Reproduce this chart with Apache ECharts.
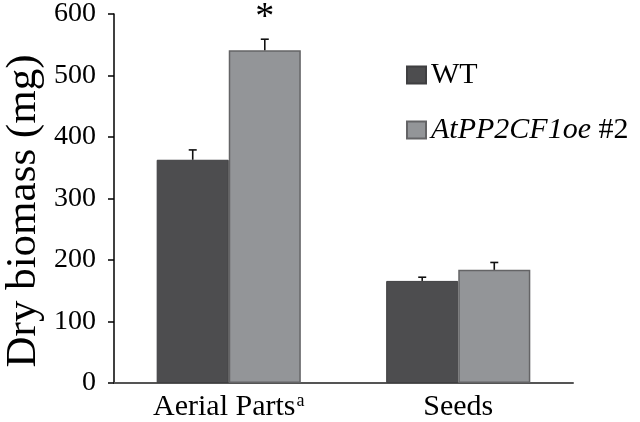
<!DOCTYPE html>
<html>
<head>
<meta charset="utf-8">
<script src="https://cdn.jsdelivr.net/npm/echarts@6/dist/echarts.min.js"></script>
<style>html,body{margin:0;padding:0;background:#fff;}#c{width:640px;height:422px;}</style>
</head>
<body>
<div id="c"></div>
<script>
const categories = ['Aerial Parts', 'Seeds'];
const seriesNames = ['WT', 'AtPP2CF1oe #2'];
const wtValues = [363, 166];
const wtErrors = [16, 6];
const oeValues = [541, 184];
const oeErrors = [18, 12];
const significance = ['*', ''];
const yTicks = { min: 0, max: 600, interval: 100 };
const yTitle = 'Dry biomass (mg)';

const FONT = '"Liberation Serif", "Times New Roman", serif';
const chart = echarts.init(document.getElementById('c'), null, { renderer: 'canvas' });

function errorSeries(values, errors, seriesIndexOffset) {
  return {
    type: 'custom',
    z: 10,
    silent: true,
    data: values.map((v, i) => [i, v, v + errors[i]]),
    renderItem: function (params, api) {
      const cat = api.value(0);
      const lo = api.coord([cat, api.value(1)]);
      const hi = api.coord([cat, api.value(2)]);
      const band = api.size([1, 0])[0];
      const barW = band * 0.314;
      const x = lo[0] + (seriesIndexOffset === 0 ? -barW / 2 : barW / 2);
      const cap = 4;
      const st = { stroke: '#111', lineWidth: 1.6 };
      return {
        type: 'group',
        children: [
          { type: 'line', shape: { x1: x, y1: lo[1], x2: x, y2: hi[1] }, style: st },
          { type: 'line', shape: { x1: x - cap, y1: hi[1], x2: x + cap, y2: hi[1] }, style: st }
        ]
      };
    }
  };
}

const option = {
  animation: false,
  backgroundColor: '#fff',
  textStyle: { fontFamily: FONT },
  grid: { left: 114, right: 67, top: 14, bottom: 38, containLabel: false },
  legend: {
    orient: 'vertical',
    left: 401,
    top: 55,
    icon: 'rect',
    itemWidth: 19,
    itemHeight: 17,
    itemGap: 25,
    data: seriesNames,
    textStyle: {
      fontFamily: FONT, fontSize: 30, color: '#000',
      rich: { i: { fontFamily: FONT, fontSize: 30, fontStyle: 'italic', color: '#000' },
              n: { fontFamily: FONT, fontSize: 30, color: '#000' } }
    },
    formatter: function (name) {
      if (name === seriesNames[1]) {
        const parts = name.split(' ');
        return '{i|' + parts[0] + '}{n| ' + parts.slice(1).join(' ') + '}';
      }
      return '{n|' + name + '}';
    }
  },
  xAxis: {
    type: 'category',
    data: categories,
    axisLine: { show: true, lineStyle: { color: '#555', width: 2 } },
    axisTick: { show: false },
    axisLabel: {
      interval: 0,
      margin: 9,
      color: '#000',
      fontFamily: FONT,
      fontSize: 30,
      formatter: function (v, i) {
        return i === 0 ? '{n|' + v + '}{s|a}' : '{n|' + v + '}';
      },
      rich: {
        n: { fontFamily: FONT, fontSize: 30, color: '#000' },
        s: { fontFamily: FONT, fontSize: 18, color: '#000', verticalAlign: 'top', padding: [0, 0, 10, 1] }
      }
    }
  },
  yAxis: {
    type: 'value',
    min: yTicks.min,
    max: yTicks.max,
    interval: yTicks.interval,
    axisLine: { show: true, lineStyle: { color: '#000', width: 1.5 } },
    axisTick: { show: true, inside: false, length: 6, lineStyle: { color: '#000', width: 1.5 } },
    splitLine: { show: false },
    axisLabel: { margin: 18, color: '#000', fontFamily: FONT, fontSize: 28 }
  },
  graphic: [{
    type: 'text',
    x: 24,
    y: 211,
    rotation: Math.PI / 2,
    style: {
      text: yTitle,
      fontFamily: FONT,
      fontSize: 43,
      fill: '#000',
      textAlign: 'center',
      textVerticalAlign: 'middle'
    }
  }],
  series: [
    {
      name: seriesNames[0],
      type: 'bar',
      data: wtValues,
      barWidth: '31.4%',
      barGap: '0%',
      itemStyle: { color: '#4d4d4f', borderColor: '#3f3f41', borderWidth: 1 }
    },
    {
      name: seriesNames[1],
      type: 'bar',
      data: oeValues.map((v, i) => ({
        value: v,
        label: significance[i] ? {
          show: true,
          position: 'top',
          distance: 13,
          formatter: significance[i],
          fontFamily: FONT,
          fontSize: 38,
          color: '#000'
        } : { show: false }
      })),
      barWidth: '31.4%',
      barGap: '0%',
      itemStyle: { color: '#939598', borderColor: '#646466', borderWidth: 1.5 }
    },
    errorSeries(wtValues, wtErrors, 0),
    errorSeries(oeValues, oeErrors, 1)
  ]
};
chart.setOption(option);
</script>
</body>
</html>
